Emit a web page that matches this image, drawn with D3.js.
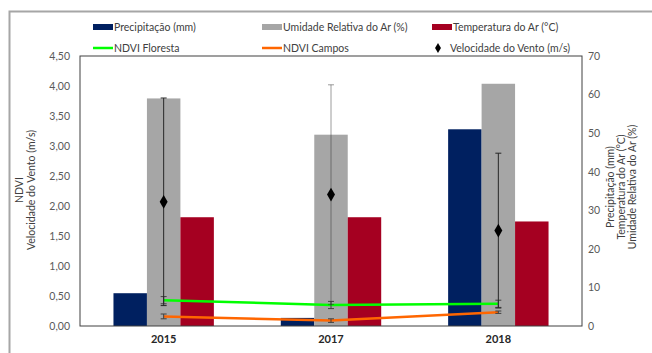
<!DOCTYPE html>
<html>
<head>
<meta charset="utf-8">
<script src="https://cdn.jsdelivr.net/npm/d3@7"></script>
<style>
  body { margin: 0; background: #fff; }
  text { font-family: Lato, "Liberation Sans", sans-serif; }
</style>
</head>
<body>
<div id="chart"></div>
<script>
// categories
const years = ['2015', '2017', '2018'];

// bars (right axis)
const precipitacao = [8.5, 2.1, 51];
const umidade = [59, 49.6, 62.8];
const temperatura = [28.2, 28.2, 27.1];

// lines / points (left axis)
const ndviFloresta = [0.43, 0.35, 0.37];
const ndviFlorestaErr = [0.06, 0.06, 0.06];
const ndviCampos = [0.16, 0.09, 0.23];
const ndviCamposErr = [0.04, 0.03, 0.02];
const vento = [2.07, 2.19, 1.59];
const ventoErr = [1.73, 1.83, 1.29];

const leftTicks = [0, 0.5, 1, 1.5, 2, 2.5, 3, 3.5, 4, 4.5];
const rightTicks = [0, 10, 20, 30, 40, 50, 60, 70];

const W = 652, H = 353;
const plot = { left: 80, right: 582, top: 56, bottom: 326 };

const svg = d3.select('#chart').append('svg')
  .attr('width', W)
  .attr('height', H);

// outer frame (cropped in the original)
svg.append('rect')
  .attr('x', 9.5).attr('y', 11.5)
  .attr('width', W).attr('height', H)
  .attr('fill', 'none')
  .attr('stroke', '#a6a6a6')
  .attr('stroke-width', 2);

const x = d3.scaleBand().domain(years).range([plot.left, plot.right]);
const series = ['p', 'u', 't'];
const xSub = d3.scaleBand().domain(series).range([0, x.bandwidth()]).paddingOuter(1);

const yL = d3.scaleLinear().domain([0, 4.5]).range([plot.bottom, plot.top]);
const yR = d3.scaleLinear().domain([0, 70]).range([plot.bottom, plot.top]);

const fmt = d3.format('.2f');

// axes
const axisL = svg.append('g')
  .attr('transform', `translate(${plot.left},0)`)
  .call(d3.axisLeft(yL).tickValues(leftTicks).tickSize(0).tickPadding(10)
    .tickFormat(d => fmt(d).replace('.', ',')));
const axisR = svg.append('g')
  .attr('transform', `translate(${plot.right},0)`)
  .call(d3.axisRight(yR).tickValues(rightTicks).tickSize(0).tickPadding(6));
const axisB = svg.append('g')
  .attr('transform', `translate(0,${plot.bottom})`)
  .call(d3.axisBottom(x).tickSize(0).tickPadding(9));

[axisL, axisR, axisB].forEach(g => {
  g.select('.domain').remove();
  g.selectAll('text').attr('font-size', 10.5).attr('fill', '#595959')
    .style('font-family', 'Lato, sans-serif');
});
axisB.selectAll('text').attr('font-size', 11).attr('font-weight', 'bold').attr('fill', '#262626');

// bars
const barData = [
  { key: 'p', values: precipitacao, color: '#002060' },
  { key: 'u', values: umidade, color: '#a6a6a6' },
  { key: 't', values: temperatura, color: '#a50021' }
];

barData.forEach(s => {
  svg.append('g').selectAll('rect')
    .data(s.values)
    .enter()
    .append('rect')
    .attr('x', (d, i) => x(years[i]) + xSub(s.key))
    .attr('y', d => yR(d))
    .attr('width', xSub.bandwidth())
    .attr('height', d => plot.bottom - yR(d))
    .attr('fill', s.color);
});

const cx = (d, i) => x(years[i]) + x.bandwidth() / 2;

// error bars helper
function errorBars(values, errs, color, opacityFn) {
  const g = svg.append('g');
  values.forEach((v, i) => {
    const xc = cx(v, i);
    const lo = yL(v - errs[i]), hi = yL(v + errs[i]);
    const op = opacityFn ? opacityFn(i) : 1;
    g.append('line').attr('x1', xc).attr('x2', xc).attr('y1', lo).attr('y2', hi)
      .attr('stroke', color).attr('stroke-width', 1).attr('opacity', op);
    [lo, hi].forEach(yy => {
      g.append('line').attr('x1', xc - 3).attr('x2', xc + 3).attr('y1', yy).attr('y2', yy)
        .attr('stroke', color).attr('stroke-width', 1).attr('opacity', op);
    });
  });
}

// NDVI lines
const line = d3.line().x(cx).y(d => yL(d));
svg.append('path').datum(ndviCampos)
  .attr('d', line).attr('fill', 'none')
  .attr('stroke', '#ff6600').attr('stroke-width', 2.5);
svg.append('path').datum(ndviFloresta)
  .attr('d', line).attr('fill', 'none')
  .attr('stroke', '#00ff00').attr('stroke-width', 2.5);

errorBars(ndviFloresta, ndviFlorestaErr, '#404040');
errorBars(ndviCampos, ndviCamposErr, '#404040');
errorBars(vento, ventoErr, '#262626', i => (i === 1 ? 0.45 : 1));

// wind speed diamonds
svg.append('g').selectAll('path')
  .data(vento)
  .enter()
  .append('path')
  .attr('transform', (d, i) => `translate(${cx(d, i)},${yL(d)})`)
  .attr('d', d3.symbol().type(d3.symbolDiamond).size(55))
  .attr('fill', '#000');

// plot frame
svg.append('rect')
  .attr('x', plot.left).attr('y', plot.top)
  .attr('width', plot.right - plot.left).attr('height', plot.bottom - plot.top)
  .attr('fill', 'none').attr('stroke', '#404040').attr('stroke-width', 1);

// axis titles
const leftTitle = svg.append('text')
  .attr('transform', 'translate(23,190) rotate(-90)')
  .attr('text-anchor', 'middle').attr('font-size', 10.5).attr('fill', '#404040');
leftTitle.append('tspan').attr('x', 0).attr('dy', 0).text('NDVI');
leftTitle.append('tspan').attr('x', 0).attr('dy', 12).text('Velocidade do Vento (m/s)');

const rightTitle = svg.append('text')
  .attr('transform', 'translate(614,187) rotate(-90)')
  .attr('text-anchor', 'middle').attr('font-size', 10.5).attr('fill', '#404040');
rightTitle.append('tspan').attr('x', 0).attr('dy', 0).text('Precipitação (mm)');
rightTitle.append('tspan').attr('x', 0).attr('dy', 11).text('Temperatura do Ar (°C)');
rightTitle.append('tspan').attr('x', 0).attr('dy', 11).text('Umidade Relativa do Ar (%)');

// legend
const legendItems = [
  { label: 'Precipitação (mm)', type: 'bar', color: '#002060', x: 93, y: 27 },
  { label: 'Umidade Relativa do Ar (%)', type: 'bar', color: '#a6a6a6', x: 262, y: 27 },
  { label: 'Temperatura do Ar (°C)', type: 'bar', color: '#a50021', x: 432, y: 27 },
  { label: 'NDVI Floresta', type: 'line', color: '#00ff00', x: 93, y: 48 },
  { label: 'NDVI Campos', type: 'line', color: '#ff6600', x: 262, y: 48 },
  { label: 'Velocidade do Vento (m/s)', type: 'point', color: '#000', x: 432, y: 48 }
];

const legend = svg.append('g');
legendItems.forEach(it => {
  if (it.type === 'bar') {
    legend.append('rect').attr('x', it.x).attr('y', it.y - 3)
      .attr('width', 20).attr('height', 6).attr('fill', it.color);
    legend.append('text').attr('x', it.x + 21).attr('y', it.y + 3.5)
      .attr('font-size', 10.5).attr('fill', '#404040').text(it.label);
  } else if (it.type === 'line') {
    legend.append('line').attr('x1', it.x).attr('x2', it.x + 20)
      .attr('y1', it.y).attr('y2', it.y)
      .attr('stroke', it.color).attr('stroke-width', 2.5);
    legend.append('text').attr('x', it.x + 21).attr('y', it.y + 3.5)
      .attr('font-size', 10.5).attr('fill', '#404040').text(it.label);
  } else {
    legend.append('path')
      .attr('transform', `translate(${it.x + 6},${it.y})`)
      .attr('d', d3.symbol().type(d3.symbolDiamond).size(30))
      .attr('fill', it.color);
    legend.append('text').attr('x', it.x + 18).attr('y', it.y + 3.5)
      .attr('font-size', 10.5).attr('fill', '#404040').text(it.label);
  }
});
</script>
</body>
</html>
